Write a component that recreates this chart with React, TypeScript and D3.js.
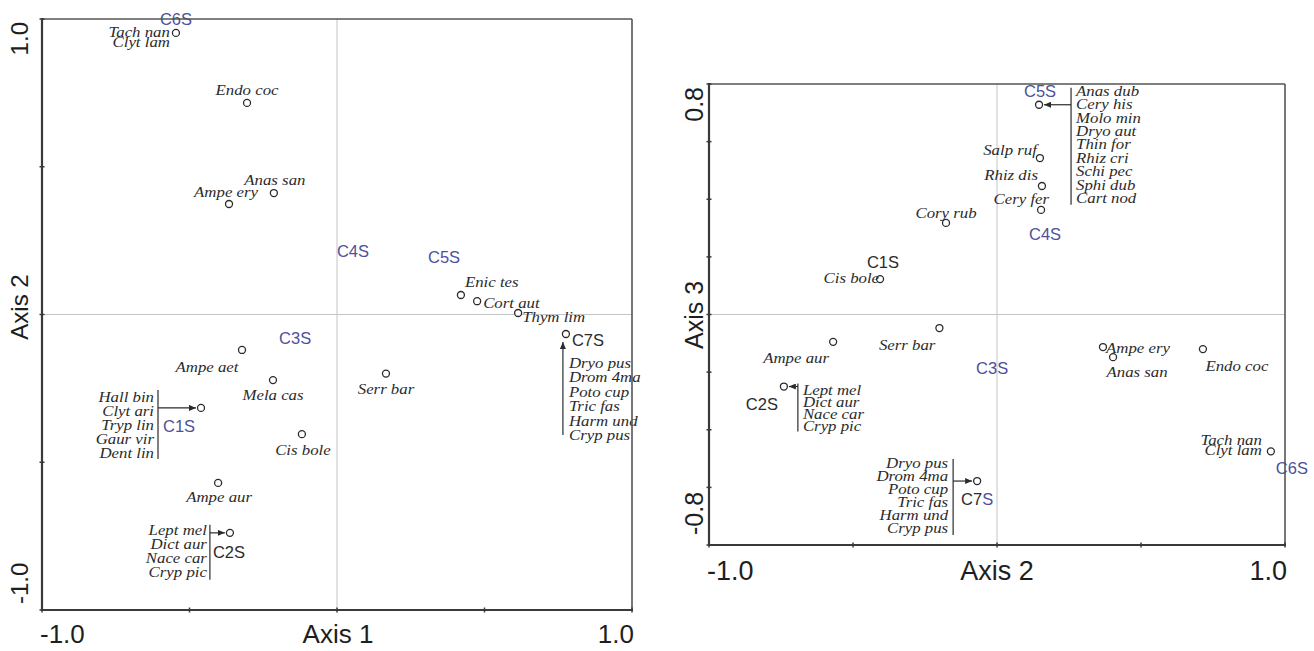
import React from "react";
import * as d3 from "d3";

const W = 1314;
const H = 651;

// ---------------- Panel 1: Axis 1 (x) vs Axis 2 (y) ----------------
const P1_SPECIES = [
  { label: ["Tach nan", "Clyt lam"], x: -0.546, y: 0.953 },
  { label: ["Endo coc"], x: -0.305, y: 0.716 },
  { label: ["Anas san"], x: -0.214, y: 0.411 },
  { label: ["Ampe ery"], x: -0.366, y: 0.374 },
  { label: ["Enic tes"], x: 0.42, y: 0.066 },
  { label: ["Cort aut"], x: 0.475, y: 0.045 },
  { label: ["Thym lim"], x: 0.614, y: 0.005 },
  { label: ["Serr bar"], x: 0.166, y: -0.2 },
  { label: ["Ampe aet"], x: -0.322, y: -0.12 },
  { label: ["Mela cas"], x: -0.217, y: -0.222 },
  { label: ["Cis bole"], x: -0.119, y: -0.405 },
  { label: ["Ampe aur"], x: -0.403, y: -0.57 },
];
const P1_GROUPS = [
  { id: "C1S", x: -0.461, y: -0.316, members: ["Hall bin", "Clyt ari", "Tryp lin", "Gaur vir", "Dent lin"] },
  { id: "C2S", x: -0.363, y: -0.739, members: ["Lept mel", "Dict aur", "Nace car", "Cryp pic"] },
  { id: "C7S", x: 0.776, y: -0.066, members: ["Dryo pus", "Drom 4ma", "Poto cup", "Tric fas", "Harm und", "Cryp pus"] },
];
const P1_GROUP_LABELS = [
  { id: "C3S", x: -0.142, y: -0.1 },
  { id: "C4S", x: 0.054, y: 0.195 },
  { id: "C5S", x: 0.363, y: 0.174 },
  { id: "C6S", x: -0.546, y: 0.98 },
];
const P1_X_TICKS = [-1, -0.5, 0, 0.5, 1];
const P1_Y_TICKS = [-1, -0.5, 0, 0.5, 1];

// ---------------- Panel 2: Axis 2 (x) vs Axis 3 (y) ----------------
const P2_SPECIES = [
  { label: ["Cory rub"], x: -0.177, y: 0.318 },
  { label: ["Cis bole"], x: -0.406, y: 0.123 },
  { label: ["Salp ruf"], x: 0.149, y: 0.543 },
  { label: ["Rhiz dis"], x: 0.156, y: 0.446 },
  { label: ["Cery fer"], x: 0.153, y: 0.363 },
  { label: ["Ampe aur"], x: -0.569, y: -0.095 },
  { label: ["Serr bar"], x: -0.2, y: -0.047 },
  { label: ["Ampe ery"], x: 0.368, y: -0.113 },
  { label: ["Anas san"], x: 0.403, y: -0.148 },
  { label: ["Endo coc"], x: 0.715, y: -0.12 },
  { label: ["Tach nan", "Clyt lam"], x: 0.951, y: -0.475 },
];
const P2_GROUPS = [
  { id: "C5S", x: 0.146, y: 0.728, members: ["Anas dub", "Cery his", "Molo min", "Dryo aut", "Thin for", "Rhiz cri", "Schi pec", "Sphi dub", "Cart nod"] },
  { id: "C2S", x: -0.74, y: -0.25, members: ["Lept mel", "Dict aur", "Nace car", "Cryp pic"] },
  { id: "C7S", x: -0.069, y: -0.578, members: ["Dryo pus", "Drom 4ma", "Poto cup", "Tric fas", "Harm und", "Cryp pus"] },
];
const P2_GROUP_LABELS = [
  { id: "C1S", x: -0.396, y: 0.161 },
  { id: "C3S", x: -0.017, y: -0.207 },
  { id: "C4S", x: 0.167, y: 0.259 },
  { id: "C6S", x: 1.024, y: -0.554 },
];
const P2_X_TICKS = [-1, -0.5, 0, 0.5, 1];
const P2_Y_TICKS = [-0.8, -0.6, -0.4, -0.2, 0, 0.2, 0.4, 0.6, 0.8];

// ---------------- styling / layout ----------------
const BLUE = "#4d509c";
const DARK = "#2b2b2b";
const SERIF = "'Liberation Serif', 'Times New Roman', serif";
const SANS = "'Liberation Sans', Arial, Helvetica, sans-serif";
const SX = 1.16; // horizontal stretch of species text
const SP_SIZE = 14.5;
const R = 3.5;

const P1_LABEL_POS: Record<string, { dx: number; dy: number; anchor: string }> = {
  "Tach nan": { dx: -6, dy: 4, anchor: "end" },
  "Endo coc": { dx: 0, dy: -8, anchor: "middle" },
  "Anas san": { dx: 1, dy: -8, anchor: "middle" },
  "Ampe ery": { dx: -3, dy: -7, anchor: "middle" },
  "Enic tes": { dx: 4, dy: -8, anchor: "start" },
  "Cort aut": { dx: 6, dy: 7, anchor: "start" },
  "Thym lim": { dx: 4, dy: 9, anchor: "start" },
  "Serr bar": { dx: 0, dy: 20, anchor: "middle" },
  "Ampe aet": { dx: -35, dy: 22, anchor: "middle" },
  "Mela cas": { dx: 0, dy: 20, anchor: "middle" },
  "Cis bole": { dx: 1, dy: 21, anchor: "middle" },
  "Ampe aur": { dx: 1, dy: 19, anchor: "middle" },
};
const P2_LABEL_POS: Record<string, { dx: number; dy: number; anchor: string }> = {
  "Cory rub": { dx: 0, dy: -5, anchor: "middle" },
  "Cis bole": { dx: -1, dy: 4, anchor: "end" },
  "Salp ruf": { dx: -3, dy: -3, anchor: "end" },
  "Rhiz dis": { dx: -4, dy: -6, anchor: "end" },
  "Cery fer": { dx: 8, dy: -6, anchor: "end" },
  "Ampe aur": { dx: -37, dy: 21, anchor: "middle" },
  "Serr bar": { dx: -4, dy: 22, anchor: "end" },
  "Ampe ery": { dx: 3, dy: 6, anchor: "start" },
  "Anas san": { dx: 24, dy: 20, anchor: "middle" },
  "Endo coc": { dx: 34, dy: 22, anchor: "middle" },
  "Tach nan": { dx: -9, dy: -6, anchor: "end" },
};

type GroupPos = {
  side: "left" | "right" | "below";
  barDx: number;
  barTopDy: number;
  barBotDy: number;
  listDx: number;
  listAnchor: string;
  listFirstDy: number;
  lineH: number;
  labelDx: number;
  labelDy: number;
  labelAnchor: string;
  labelColors: string[];
};

const P1_GROUP_POS: Record<string, GroupPos> = {
  C1S: { side: "left", barDx: -43, barTopDy: -18, barBotDy: 51, listDx: -47, listAnchor: "end", listFirstDy: -6, lineH: 14, labelDx: -38, labelDy: 24, labelAnchor: "start", labelColors: [BLUE, BLUE, BLUE] },
  C2S: { side: "left", barDx: -20, barTopDy: -8, barBotDy: 47, listDx: -23, listAnchor: "end", listFirstDy: 2, lineH: 14, labelDx: -17, labelDy: 25, labelAnchor: "start", labelColors: [DARK, DARK, DARK] },
  C7S: { side: "below", barDx: -3, barTopDy: 8, barBotDy: 101, listDx: 3, listAnchor: "start", listFirstDy: 34, lineH: 14.4, labelDx: 6, labelDy: 12, labelAnchor: "start", labelColors: [DARK, DARK, DARK] },
};
const P2_GROUP_POS: Record<string, GroupPos> = {
  C5S: { side: "right", barDx: 32, barTopDy: -17, barBotDy: 100, listDx: 37, listAnchor: "start", listFirstDy: -9, lineH: 13.4, labelDx: 1, labelDy: -8, labelAnchor: "middle", labelColors: [BLUE, BLUE, BLUE] },
  C2S: { side: "right", barDx: 14, barTopDy: -3, barBotDy: 45, listDx: 19, listAnchor: "start", listFirstDy: 8, lineH: 12.3, labelDx: -22, labelDy: 23, labelAnchor: "middle", labelColors: [DARK, DARK, DARK] },
  C7S: { side: "left", barDx: -24, barTopDy: -22, barBotDy: 54, listDx: -29, listAnchor: "end", listFirstDy: -13, lineH: 13, labelDx: 0, labelDy: 24, labelAnchor: "middle", labelColors: [DARK, DARK, BLUE] },
};

type Frame = { left: number; top: number; right: number; bottom: number };
type AxisText = {
  bottomY: number; bottomSize: number; xMin: string; xMax: string; xTitle: string;
  leftX: number; leftSize: number; yMin: string; yMax: string; yTitle: string;
  yMaxAt: number; yMinAt: number; yTitleAt: number; xMinAt: number; xMaxAt: number; xTitleAt: number;
};

function SpeciesText({ x, y, anchor, text }: { x: number; y: number; anchor: string; text: string }) {
  return (
    <text
      transform={`translate(${x},${y}) scale(${SX},1)`}
      textAnchor={anchor as any}
      fontFamily={SERIF}
      fontStyle="italic"
      fontSize={SP_SIZE}
      fill={DARK}
    >
      {text}
    </text>
  );
}

function Panel(props: {
  id: string;
  frame: Frame;
  xDomain: number[];
  yDomain: number[];
  xTicks: number[];
  yTicks: number[];
  axisText: AxisText;
  species: { label: string[]; x: number; y: number }[];
  speciesPos: Record<string, { dx: number; dy: number; anchor: string }>;
  groups: { id: string; x: number; y: number; members: string[] }[];
  groupPos: Record<string, GroupPos>;
  groupLabels: { id: string; x: number; y: number }[];
  groupLabelColors: Record<string, string>;
}) {
  const { frame, axisText: a } = props;
  const x = d3.scaleLinear().domain(props.xDomain).range([frame.left, frame.right]);
  const y = d3.scaleLinear().domain(props.yDomain).range([frame.bottom, frame.top]);
  const markerId = `arrow-${props.id}`;

  return (
    <g>
      <defs>
        <marker id={markerId} viewBox="0 0 7 6" refX={7} refY={3} markerWidth={7} markerHeight={6} markerUnits="userSpaceOnUse" orient="auto">
          <path d="M0,0 L7,3 L0,6 z" fill={DARK} />
        </marker>
      </defs>
      {/* zero lines */}
      <line x1={x(0)} x2={x(0)} y1={frame.top} y2={frame.bottom} stroke="#c4c4c4" strokeWidth={1} />
      <line x1={frame.left} x2={frame.right} y1={y(0)} y2={y(0)} stroke="#c4c4c4" strokeWidth={1} />

      {/* species */}
      {props.species.map((s, i) => {
        const cx = x(s.x);
        const cy = y(s.y);
        const p = props.speciesPos[s.label[0]];
        return (
          <g key={i}>
            <circle cx={cx} cy={cy} r={R} fill="white" stroke={DARK} strokeWidth={1.3} />
            {s.label.map((t, j) => (
              <SpeciesText key={j} x={cx + p.dx} y={cy + p.dy + j * 10} anchor={p.anchor} text={t} />
            ))}
          </g>
        );
      })}

      {/* groups with member lists */}
      {props.groups.map((g, i) => {
        const cx = x(g.x);
        const cy = y(g.y);
        const p = props.groupPos[g.id];
        const bx = cx + p.barDx;
        let arrow;
        let bar = null;
        if (p.side === "below") {
          arrow = <line x1={bx} x2={bx} y1={cy + p.barBotDy} y2={cy + p.barTopDy} stroke={DARK} strokeWidth={1.2} markerEnd={`url(#${markerId})`} />;
        } else {
          const tip = p.side === "left" ? cx - R - 1.5 : cx + R + 1.5;
          arrow = <line x1={bx} x2={tip} y1={cy} y2={cy} stroke={DARK} strokeWidth={1.2} markerEnd={`url(#${markerId})`} />;
          bar = <line x1={bx} x2={bx} y1={cy + p.barTopDy} y2={cy + p.barBotDy} stroke={DARK} strokeWidth={1.2} />;
        }
        return (
          <g key={i}>
            {bar}
            {arrow}
            <circle cx={cx} cy={cy} r={R} fill="white" stroke={DARK} strokeWidth={1.3} />
            {g.members.map((m, j) => (
              <SpeciesText key={j} x={cx + p.listDx} y={cy + p.listFirstDy + j * p.lineH} anchor={p.listAnchor} text={m} />
            ))}
            <text x={cx + p.labelDx} y={cy + p.labelDy} textAnchor={p.labelAnchor as any} fontFamily={SANS} fontSize={16.5}>
              {g.id.split("").map((ch, k) => (
                <tspan key={k} fill={p.labelColors[k]}>{ch}</tspan>
              ))}
            </text>
          </g>
        );
      })}

      {/* standalone group labels */}
      {props.groupLabels.map((g, i) => (
        <text key={i} x={x(g.x)} y={y(g.y)} textAnchor="middle" fontFamily={SANS} fontSize={16.5} fill={props.groupLabelColors[g.id] || BLUE}>
          {g.id}
        </text>
      ))}

      {/* frame */}
      <line x1={frame.left} x2={frame.right} y1={frame.top} y2={frame.top} stroke="#555" strokeWidth={1.6} />
      <line x1={frame.right} x2={frame.right} y1={frame.top} y2={frame.bottom} stroke="#555" strokeWidth={1.6} />
      <line x1={frame.left} x2={frame.left} y1={frame.top - 1} y2={frame.bottom + 1} stroke="#3a3a3a" strokeWidth={2.2} />
      <line x1={frame.left - 1} x2={frame.right + 1} y1={frame.bottom} y2={frame.bottom} stroke="#3a3a3a" strokeWidth={2.2} />

      {/* ticks */}
      {props.xTicks.map((t, i) => (
        <line key={`xt${i}`} x1={x(t)} x2={x(t)} y1={frame.bottom - 2.5} y2={frame.bottom + 2.5} stroke="#3a3a3a" strokeWidth={1.5} />
      ))}
      {props.yTicks.map((t, i) => (
        <line key={`yt${i}`} x1={frame.left - 2.5} x2={frame.left + 2.5} y1={y(t)} y2={y(t)} stroke="#3a3a3a" strokeWidth={1.5} />
      ))}

      {/* axis texts: bottom */}
      <g fontFamily={SANS} fontSize={a.bottomSize} fill="#1e1e1e">
        <text x={a.xMinAt} y={a.bottomY} textAnchor="start">{a.xMin}</text>
        <text x={a.xTitleAt} y={a.bottomY} textAnchor="middle">{a.xTitle}</text>
        <text x={a.xMaxAt} y={a.bottomY} textAnchor="end">{a.xMax}</text>
      </g>
      {/* axis texts: left (rotated) */}
      <g fontFamily={SANS} fontSize={a.leftSize} fill="#1e1e1e">
        <text transform={`translate(${a.leftX},${a.yMaxAt}) rotate(-90)`} textAnchor="end">{a.yMax}</text>
        <text transform={`translate(${a.leftX},${a.yTitleAt}) rotate(-90)`} textAnchor="middle">{a.yTitle}</text>
        <text transform={`translate(${a.leftX},${a.yMinAt}) rotate(-90)`} textAnchor="start">{a.yMin}</text>
      </g>
    </g>
  );
}

export default function App() {
  const f1: Frame = { left: 42, top: 19, right: 632, bottom: 610 };
  const f2: Frame = { left: 709, top: 84, right: 1285, bottom: 545 };
  return (
    <svg width={W} height={H} viewBox={`0 0 ${W} ${H}`} style={{ position: "absolute", left: 0, top: 0, background: "white" }}>
      <rect x={0} y={0} width={W} height={H} fill="white" />
      <Panel
        id="p1"
        frame={f1}
        xDomain={[-1, 1]}
        yDomain={[-1, 1]}
        xTicks={P1_X_TICKS}
        yTicks={P1_Y_TICKS}
        axisText={{
          bottomY: 643, bottomSize: 26, xMin: "-1.0", xMax: "1.0", xTitle: "Axis 1",
          leftX: 28, leftSize: 24, yMin: "-1.0", yMax: "1.0", yTitle: "Axis 2",
          yMaxAt: 22, yMinAt: 604, yTitleAt: 307, xMinAt: 40, xMaxAt: 634, xTitleAt: 338,
        }}
        species={P1_SPECIES}
        speciesPos={P1_LABEL_POS}
        groups={P1_GROUPS}
        groupPos={P1_GROUP_POS}
        groupLabels={P1_GROUP_LABELS}
        groupLabelColors={{}}
      />
      <Panel
        id="p2"
        frame={f2}
        xDomain={[-1, 1]}
        yDomain={[-0.8, 0.8]}
        xTicks={P2_X_TICKS}
        yTicks={P2_Y_TICKS}
        axisText={{
          bottomY: 580, bottomSize: 27, xMin: "-1.0", xMax: "1.0", xTitle: "Axis 2",
          leftX: 703, leftSize: 25, yMin: "-0.8", yMax: "0.8", yTitle: "Axis 3",
          yMaxAt: 87, yMinAt: 535, yTitleAt: 315, xMinAt: 707, xMaxAt: 1287, xTitleAt: 997,
        }}
        species={P2_SPECIES}
        speciesPos={P2_LABEL_POS}
        groups={P2_GROUPS}
        groupPos={P2_GROUP_POS}
        groupLabels={P2_GROUP_LABELS}
        groupLabelColors={{ C1S: DARK }}
      />
    </svg>
  );
}
